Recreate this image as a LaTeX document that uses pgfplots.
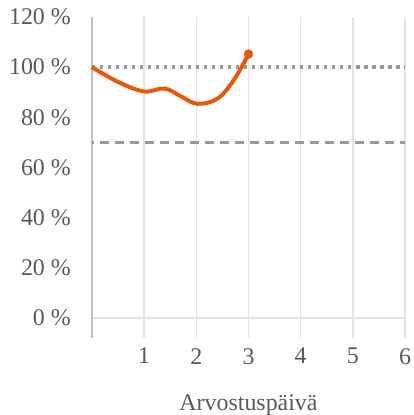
\documentclass[border=0pt]{standalone}
\usepackage{fontspec}
\setmainfont{Liberation Serif}
\usepackage{pgfplots}
\pgfplotsset{compat=1.18}
\definecolor{txt}{HTML}{595959}
\definecolor{orng}{HTML}{E35A0B}
\definecolor{refgray}{HTML}{999999}
\definecolor{gridc}{HTML}{E3E3E3}
\definecolor{axc}{HTML}{BFBFBF}
\begin{document}
\fontsize{24}{28}\selectfont
\begin{tikzpicture}[x=1bp,y=1bp]
\begin{axis}[
  scale only axis,
  width=313bp, height=321bp,
  xmin=0, xmax=6, ymin=-8, ymax=120,
  xtick={1,2,3,4,5,6},
  ytick={0,20,40,60,80,100,120},
  yticklabels={0 \%,20 \%,40 \%,60 \%,80 \%,100 \%,120 \%},
  /pgf/number format/assume math mode=true,
  xmajorgrids,
  grid style={gridc, line width=1.5bp},
  major tick length=0pt,
  axis line style={draw=none},
  tick label style={font=\fontsize{24}{28}\selectfont, text=txt},
  yticklabel style={xshift=-13bp},
  xticklabel style={yshift=-2bp},
  xlabel={Arvostuspäivä},
  xlabel style={font=\fontsize{24}{28}\selectfont, text=txt, yshift=-14bp},
  clip=false,
]
\draw[gridc, line width=1.5bp] (axis cs:0,0) -- (axis cs:6,0);
\draw[axc, line width=1.5bp] (axis cs:0,-8) -- (axis cs:0,120);
\addplot[refgray, line width=3.5bp, dash pattern=on 3.5bp off 4.5bp, dash phase=-8bp] coordinates {(0,100) (6,100)};
\addplot[refgray, line width=3.5bp, dash pattern=on 9bp off 6bp, dash phase=-8bp] coordinates {(0,70) (6,70)};
\addplot[orng, line width=4bp, smooth, tension=0.6, mark=none] coordinates {(0,100) (0.5,94.1) (1,90.3) (1.39,91.5) (1.71,88.3) (2.02,85.4) (2.41,87.5) (2.73,95.2) (3,105.2)};
\addplot[orng, only marks, mark=*, mark size=4.5bp] coordinates {(3,105.2)};
\end{axis}
\pgfresetboundingbox
\path[use as bounding box] ([shift={(-92bp,-77bp)}]current axis.south west) rectangle ([shift={(9bp,17bp)}]current axis.north east);
\end{tikzpicture}
\end{document}
